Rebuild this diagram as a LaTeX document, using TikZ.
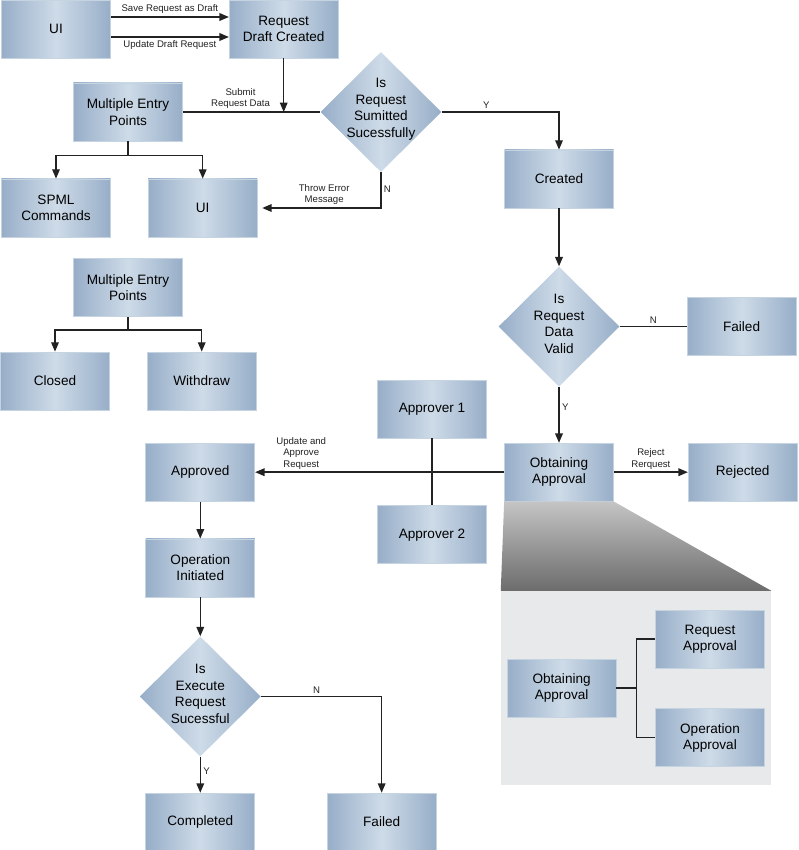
\documentclass[tikz,border=0pt]{standalone}
\usepackage{fontspec}
\setmainfont{Liberation Sans}
\usetikzlibrary{arrows.meta,positioning,shapes.geometric,calc}
\definecolor{blueEdge}{HTML}{97AEC8}
\definecolor{blueLight}{HTML}{CEDBE8}
\definecolor{blueLine}{HTML}{C6D4E2}
\definecolor{greyPanel}{HTML}{E8E9EB}
\definecolor{greyTop}{HTML}{C4C4C4}
\definecolor{greyBottom}{HTML}{6C6C6C}
\definecolor{ink}{HTML}{222222}

\begin{document}
\begin{tikzpicture}[
            x=0.03cm, y=-0.03cm,
            stage/.style={draw=blueLine, line width=0.6pt, left color=blueEdge, right color=blueEdge, middle color=blueLight, minimum width=3.27cm, minimum height=1.74cm, inner sep=2pt, align=center, font=\fontsize{11.6}{14}\selectfont},
            decision/.style={diamond, aspect=1, minimum width=3.63cm, minimum height=3.6cm, inner sep=0pt, left color=blueEdge, right color=blueEdge, middle color=blueLight},
            question/.style={align=center, font=\fontsize{11.6}{14}\selectfont},
            flow/.style={-{Triangle[length=8pt,width=6.5pt]}, line width=1.2pt, ink},
            link/.style={line width=1.2pt, ink},
            tag/.style={align=center, font=\fontsize{8.2}{9.8}\selectfont, inner sep=2pt}
        ]
\useasboundingbox (0,0) rectangle (798,850);

\node[stage] (uiTop) at (56,29) {UI};
\node[stage, right=3.54cm of uiTop] (draft) {Request\\Draft Created};
\node[stage] (entryA) at (128,112) {Multiple Entry\\Points};
\node[decision, right=4.12cm of entryA] (askSubmit) {};
\node[question] (askSubmitTxt) at ([yshift=0.08cm]askSubmit) {Is\\Request\\Sumitted\\Sucessfully};
\node[stage] (created) at (559,179) {Created};
\node[stage] (spml) at (56,208) {SPML\\Commands};
\node[stage, right=1.11cm of spml] (uiErr) {UI};
\node[stage, below=3.51cm of entryA] (entryB) {Multiple Entry\\Points};
\node[stage] (closed) at (55,381) {Closed};
\node[stage, right=1.11cm of closed] (withdraw) {Withdraw};
\node[decision, below=1.74cm of created] (askValid) {};
\node[question] (askValidTxt) at ([yshift=0.08cm]askValid) {Is\\Request\\Data\\Valid};
\node[stage, right=2.01cm of askValid] (failedA) {Failed};
\node[stage, below=1.68cm of askValid] (obtain) {Obtaining\\Approval};
\node[stage, right=2.22cm of obtain] (rejected) {Rejected};
\node[stage] (approverA) at (432,409) {Approver 1};
\node[stage, below=2.01cm of approverA] (approverB) {Approver 2};
\node[stage, left=7.47cm of obtain] (approved) {Approved};
\node[stage, below=1.11cm of approved] (opInit) {Operation\\Initiated};
\node[decision, below=1.17cm of opInit] (askExec) {};
\node[question] (askExecTxt) at ([yshift=0.08cm]askExec) {Is\\Execute\\Request\\Sucessful};
\node[stage, below=1.08cm of askExec] (completed) {Completed};
\node[stage, right=2.15cm of completed] (failedB) {Failed};

% zoom into obtaining approval
\node[fill=greyPanel, minimum width=8.1cm, minimum height=5.82cm, inner sep=0pt] (zoomPanel) at (636,688) {};
\shade[top color=greyTop, bottom color=greyBottom] (obtain.south west) -- (obtain.south east) -- (zoomPanel.north east) -- (zoomPanel.north west) -- cycle;
\node[stage, right=0.18cm of zoomPanel.west] (obtainIn) {Obtaining\\Approval};
\node[stage] (reqAppr) at (710,639) {Request\\Approval};
\node[stage, below=1.2cm of reqAppr] (opAppr) {Operation\\Approval};

\coordinate (submitIn) at (draft.south |- askSubmit.west);
\coordinate[below=0.42cm of entryA] (forkA);
\coordinate[below=0.39cm of entryB] (forkB);
\coordinate[right=0.6cm of obtainIn] (forkC);

\draw[flow] ([yshift=0.36cm]uiTop.east) -- node[tag, above]{Save Request as Draft} ([yshift=0.36cm]draft.west);
\draw[flow] ([yshift=-0.24cm]uiTop.east) -- node[tag, below]{Update Draft Request} ([yshift=-0.24cm]draft.west);
\draw[link] (entryA.east) -- node[tag, above, pos=0.42]{Submit\\Request Data} (askSubmit.west);
\draw[flow] (draft.south) -- (submitIn);
\draw[flow] (askSubmit.east) -| node[tag, above, pos=0.19]{Y} (created.north);
\draw[flow, shorten >=4pt] (askSubmit.south) |- node[tag, right, pos=0.24]{N} node[tag, above, pos=0.73]{Throw Error\\Message} (uiErr.east);
\draw[link] (entryA.south) -- (forkA);
\draw[flow] (forkA) -| (spml.north);
\draw[flow] (forkA) -| (uiErr.north);
\draw[link] (entryB.south) -- (forkB);
\draw[flow] (forkB) -| (closed.north);
\draw[flow] (forkB) -| (withdraw.north);

\draw[flow] (created) -- (askValid);
\draw[link] (askValid) -- node[tag, above]{N} (failedA);
\draw[flow] (askValid) -- node[tag, right, pos=0.37]{Y} (obtain);
\draw[flow] (obtain) -- node[tag, above]{Reject\\Rerquest} (rejected);
\draw[flow] (obtain) -- node[tag, above, pos=0.815]{Update and\\Approve\\Request} (approved);
\draw[link] (approverA) -- (approverB);
\draw[flow] (approved) -- (opInit);
\draw[flow] (opInit) -- (askExec);
\draw[flow] (askExec) -- node[tag, right, pos=0.4]{Y} (completed);
\draw[flow] (askExec.east) -| node[tag, above, pos=0.23]{N} (failedB.north);
\draw[link] (obtainIn.east) -- (forkC);
\draw[link] (reqAppr.west) -| (forkC) |- (opAppr.west);
\end{tikzpicture}
\end{document}
